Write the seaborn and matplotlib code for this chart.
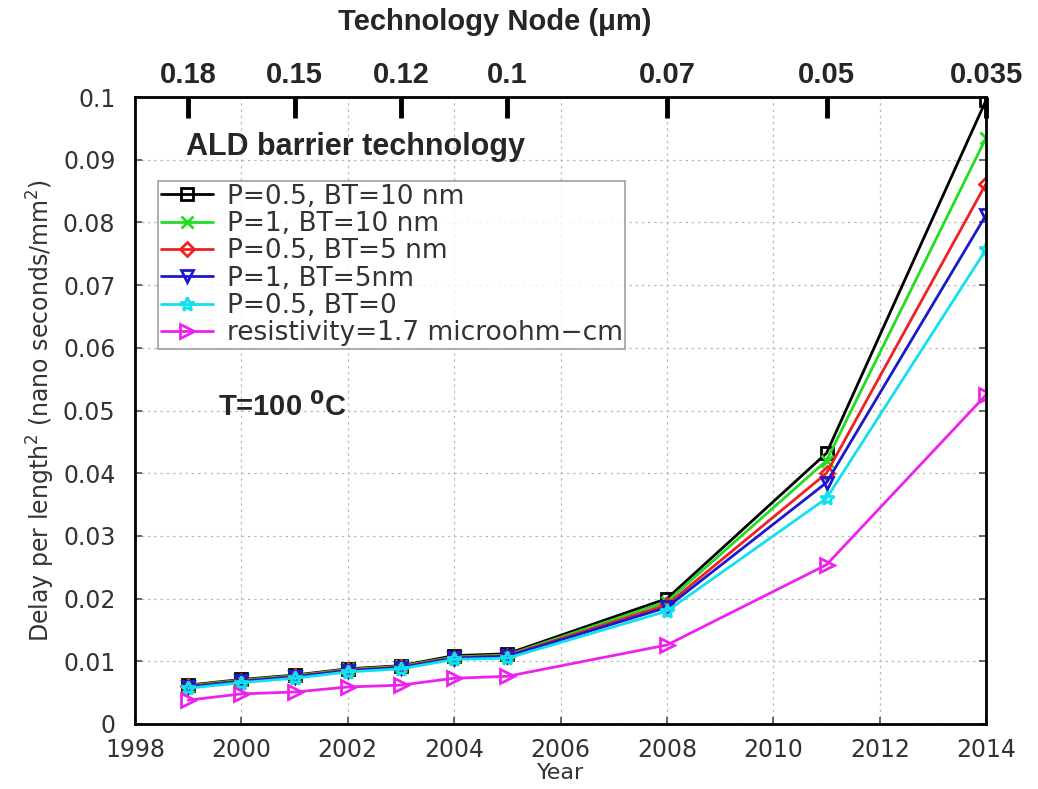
import numpy as np
import pandas as pd
import matplotlib
matplotlib.use("Agg")
import matplotlib.pyplot as plt
import seaborn as sns

years = [1999, 2000, 2001, 2002, 2003, 2004, 2005, 2008, 2011, 2014]
p05_bt10 = [0.0062, 0.0071, 0.0078, 0.0088, 0.0093, 0.0109, 0.0112, 0.0200, 0.0432, 0.0995]
p1_bt10 = [0.0061, 0.0070, 0.0077, 0.0087, 0.0092, 0.0107, 0.0110, 0.0195, 0.0420, 0.0935]
p05_bt5 = [0.0060, 0.0069, 0.0076, 0.0086, 0.0091, 0.0106, 0.0109, 0.0190, 0.0400, 0.0862]
p1_bt5 = [0.0059, 0.0068, 0.0075, 0.0085, 0.0090, 0.0105, 0.0108, 0.0186, 0.0385, 0.0812]
p05_bt0 = [0.0057, 0.0066, 0.0073, 0.0083, 0.0088, 0.0103, 0.0105, 0.0180, 0.0360, 0.0757]
resist = [0.0038, 0.0048, 0.0051, 0.0059, 0.0062, 0.0073, 0.0076, 0.0126, 0.0254, 0.0525]

labels = ["P=0.5, BT=10 nm", "P=1, BT=10 nm", "P=0.5, BT=5 nm",
          "P=1, BT=5nm", "P=0.5, BT=0", "resistivity=1.7 microohm\u2212cm"]
series = [p05_bt10, p1_bt10, p05_bt5, p1_bt5, p05_bt0, resist]
colors = ["#000000", "#22dd22", "#ee2222", "#1a1acc", "#11e0ee", "#ee22ee"]
markers = ["s", "x", "D", "v", "*", ">"]
msizes = [9, 8, 7, 9, 10, 10]

y_ticks = [0, 0.01, 0.02, 0.03, 0.04, 0.05, 0.06, 0.07, 0.08, 0.09, 0.1]
y_ticklabels = ["0", "0.01", "0.02", "0.03", "0.04", "0.05", "0.06", "0.07", "0.08", "0.09", "0.1"]
x_ticks = [1998, 2000, 2002, 2004, 2006, 2008, 2010, 2012, 2014]

node_years = [1999, 2001, 2003, 2005, 2008, 2011, 2014]
node_labels = ["0.18", "0.15", "0.12", "0.1", "0.07", "0.05", "0.035"]

sns.set_theme(style="white")
plt.rcParams['font.family'] = ['DejaVu Sans']
bold_family = ["Liberation Sans", "DejaVu Sans"]

fig = plt.figure(figsize=(10.38, 7.89), dpi=100)
ax = fig.add_axes([0.130, 0.0824, 0.820, 0.7946])

for lab, vals, c, m, ms in zip(labels, series, colors, markers, msizes):
    df = pd.DataFrame({"Year": years, "Delay": vals})
    sns.lineplot(data=df, x="Year", y="Delay", ax=ax, color=c, marker=m,
                 markersize=ms, markerfacecolor="none", markeredgecolor=c,
                 markeredgewidth=2, linewidth=2, label=lab)

ax.set_xlim(1998, 2014)
ax.set_ylim(0, 0.1)
ax.set_xticks(x_ticks)
ax.set_yticks(y_ticks)
ax.set_yticklabels(y_ticklabels)
ax.grid(True, linestyle=(0, (2, 3)), color="#bbbbbb", linewidth=0.9)
ax.tick_params(axis="both", labelsize=17, labelcolor="#333333", direction="in",
               length=5, color="#555555", left=True, bottom=True, right=True)
ax.tick_params(axis="x", pad=10)
ax.tick_params(axis="y", pad=14)
for s in ax.spines.values():
    s.set_color("black")
    s.set_linewidth(2)
ax.set_xlabel("Year", fontsize=16, color="#333333", labelpad=1)
ax.set_ylabel(r"Delay per length$^2$ (nano seconds/mm$^2$)", fontsize=17,
              color="#333333", labelpad=4)

ax2 = ax.twiny()
ax2.set_xlim(ax.get_xlim())
ax2.set_xticks(node_years)
ax2.set_xticklabels(node_labels, fontsize=21, fontweight="bold", family=bold_family)
ax2.tick_params(axis="x", direction="in", length=15, width=3.5, color="black", pad=6)
ax2.grid(False)
for s in ax2.spines.values():
    s.set_visible(False)

fig.text(0.477, 0.972, "Technology Node (\u03bcm)", fontsize=21, fontweight="bold",
         ha="center", va="center", family=bold_family)

leg = ax.legend(loc="upper left", bbox_to_anchor=(0.027, 0.866), fontsize=19,
                frameon=True, fancybox=False, edgecolor="#888888",
                handlelength=2.0, labelspacing=0.05, borderpad=0.1, borderaxespad=0,
                handletextpad=0.5)
leg.get_frame().set_linewidth(1.2)
for t in leg.get_texts():
    t.set_color("#333333")

ax.text(0.06, 0.92, "ALD barrier technology", transform=ax.transAxes,
        fontsize=22, fontweight="bold", va="center", ha="left", family=bold_family)
ax.text(0.098, 0.506, r"T=100 $\mathbf{^0}$C", transform=ax.transAxes,
        fontsize=21, fontweight="bold", va="center", ha="left", family=bold_family)

fig.savefig("out.png", dpi=100)
